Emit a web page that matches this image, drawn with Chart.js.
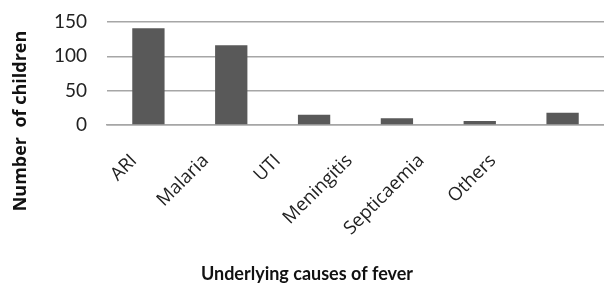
<!DOCTYPE html>
<html>
<head>
<meta charset="utf-8">
<script src="https://cdn.jsdelivr.net/npm/chart.js@4"></script>
<style>
html,body{margin:0;padding:0;background:#fff;}
#wrap{width:604px;height:285px;}
</style>
</head>
<body>
<div id="wrap"><canvas id="c" width="604" height="285"></canvas></div>
<script>
const categories = ["ARI", "Malaria", "UTI", "Meningitis", "Septicaemia", "Others"];
const children = [141, 116, 15, 10, 6, 18];
const yTicks = [0, 50, 100, 150];
const xTitle = "Underlying causes of fever";
const yTitle = "Number  of children";

// Axis titles drawn at the reference's positions (not centred on the plot area)
const titlesPlugin = {
  id: 'titles',
  beforeDraw(chart) {
    // category labels in the reference are set slightly tighter than the bars
    const sx = chart.scales.x;
    const items = sx.getLabelItems();
    items.forEach(it => {
      const t = it.options.translation;
      t[0] = sx.left + (t[0] - sx.left) * 0.867 - 10;
    });
  },
  afterDraw(chart) {
    const ctx = chart.ctx;
    ctx.save();
    ctx.fillStyle = '#111';
    ctx.textAlign = 'center';
    ctx.textBaseline = 'middle';
    ctx.font = 'bold 18px Lato';
    ctx.fillText(xTitle, 307, 274);
    ctx.translate(21, 121);
    ctx.rotate(-Math.PI / 2);
    ctx.font = 'bold 18px "Open Sans"';
    ctx.fillText(yTitle, 0, 0);
    ctx.restore();
  }
};

new Chart(document.getElementById('c'), {
  type: 'bar',
  data: {
    labels: categories,
    datasets: [{
      data: children,
      backgroundColor: '#595959',
      borderWidth: 0,
      barPercentage: 0.78,
      categoryPercentage: 0.5
    }]
  },
  plugins: [titlesPlugin],
  options: {
    responsive: false,
    animation: false,
    devicePixelRatio: 1,
    layout: { padding: { left: 0, right: 0, top: 22, bottom: 0 }, autoPadding: false },
    plugins: { legend: { display: false }, tooltip: { enabled: false } },
    scales: {
      x: {
        grid: { display: false, drawTicks: false },
        border: { color: '#a6a6a6', width: 1.5 },
        afterFit: (axis) => { axis.height = 160; },
        ticks: {
          color: '#222',
          font: { family: 'Open Sans', size: 18.5 },
          minRotation: 45, maxRotation: 45,
          padding: 25,
          autoSkip: false
        }
      },
      y: {
        min: 0, max: 150,
        afterBuildTicks: (axis) => { axis.ticks = yTicks.map(v => ({ value: v })); },
        afterFit: (axis) => { axis.width = 107; axis.paddingTop = 0; },
        grid: { color: '#a6a6a6', lineWidth: 1.5, drawTicks: false },
        border: { display: false },
        ticks: {
          color: '#222',
          font: { family: 'Lato', size: 19 },
          padding: 20
        }
      }
    }
  }
});
</script>
</body>
</html>
